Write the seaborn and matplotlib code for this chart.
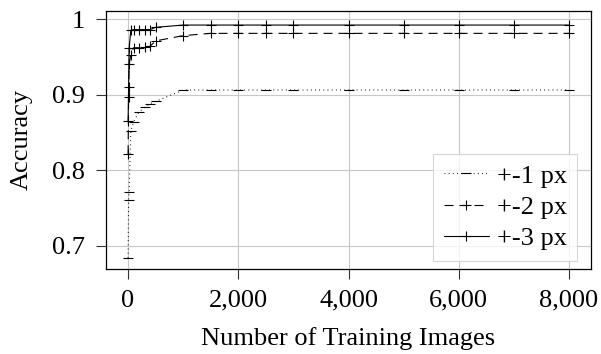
import matplotlib
matplotlib.use("Agg")
import matplotlib.pyplot as plt
import seaborn as sns
import pandas as pd

# ---- data ----
train_images = [1, 10, 20, 50, 100, 200, 300, 400, 500, 1000, 1500, 2000,
                2500, 3000, 4000, 5000, 6000, 7000, 8000]
acc_1px = [0.684, 0.760, 0.771, 0.852, 0.864, 0.877, 0.883, 0.888, 0.891,
           0.906, 0.906, 0.906, 0.906, 0.906, 0.906, 0.906, 0.906, 0.906, 0.906]
acc_2px = [0.821, 0.897, 0.940, 0.953, 0.962, 0.962, 0.963, 0.964, 0.971,
           0.978, 0.981, 0.981, 0.981, 0.981, 0.981, 0.981, 0.981, 0.981, 0.981]
acc_3px = [0.865, 0.910, 0.961, 0.985, 0.986, 0.986, 0.986, 0.986, 0.989,
           0.992, 0.992, 0.992, 0.992, 0.992, 0.992, 0.992, 0.992, 0.992, 0.992]
series_labels = ["+-1 px", "+-2 px", "+-3 px"]
x_ticks = [0, 2000, 4000, 6000, 8000]
x_ticklabels = ["0", "2,000", "4,000", "6,000", "8,000"]
y_ticks = [0.7, 0.8, 0.9, 1.0]
y_ticklabels = ["0.7", "0.8", "0.9", "1"]

df = pd.DataFrame({
    "images": train_images * 3,
    "acc": acc_1px + acc_2px + acc_3px,
    "series": [s for s in series_labels for _ in train_images],
})

sns.set_theme(style="whitegrid")
plt.rcParams["font.family"] = ["Liberation Serif", "DejaVu Serif"]
plt.rcParams["lines.scale_dashes"] = False
plt.rcParams["text.color"] = "black"
plt.rcParams["axes.labelcolor"] = "black"
plt.rcParams["xtick.color"] = "black"
plt.rcParams["ytick.color"] = "black"

fig = plt.figure(figsize=(6.01, 3.54), dpi=100)
ax = fig.add_axes([106 / 601, 85.3 / 354, (591 - 106) / 601, (343 - 85.3) / 354])

styles = {
    "+-1 px": dict(linestyle=(0, (0.6, 2.4)), marker="_", lw=0.8),
    "+-2 px": dict(linestyle=(0, (6.5, 4.3)), marker="+", lw=0.8),
    "+-3 px": dict(linestyle="-", marker="+", lw=0.8),
}
for s in series_labels:
    st = styles[s]
    sns.lineplot(data=df[df["series"] == s], x="images", y="acc", ax=ax,
                 color="black", linewidth=st["lw"], linestyle=st["linestyle"],
                 marker=st["marker"], markersize=7.5, markeredgewidth=0.8,
                 markeredgecolor="black", label=s)

FS = 19
ax.set_xlim(-400, 8400)
ax.set_ylim(0.6695, 1.0106)
ax.set_xticks(x_ticks)
ax.set_xticklabels(x_ticklabels)
ax.set_yticks(y_ticks)
ax.set_yticklabels(y_ticklabels)
ax.set_xlabel("Number of Training Images", fontsize=FS, labelpad=11)
ax.set_ylabel("Accuracy", fontsize=FS, labelpad=14)
ax.tick_params(axis="both", which="major", labelsize=FS, direction="out",
               length=7, width=0.8, color="#333333", pad=8,
               bottom=True, left=True)
ax.grid(True, color="#c8c8c8", linewidth=0.8)
for sp in ax.spines.values():
    sp.set_color("black")
    sp.set_linewidth(0.9)

leg = ax.legend(loc="lower right", bbox_to_anchor=(0.972, 0.03), fontsize=FS,
                frameon=True, fancybox=False, framealpha=0.8,
                edgecolor="#cccccc", handlelength=1.7, handletextpad=0.3,
                labelspacing=0.3, borderpad=0.4, borderaxespad=0.0)
leg.get_frame().set_linewidth(0.8)

fig.savefig("out.png", dpi=100)
